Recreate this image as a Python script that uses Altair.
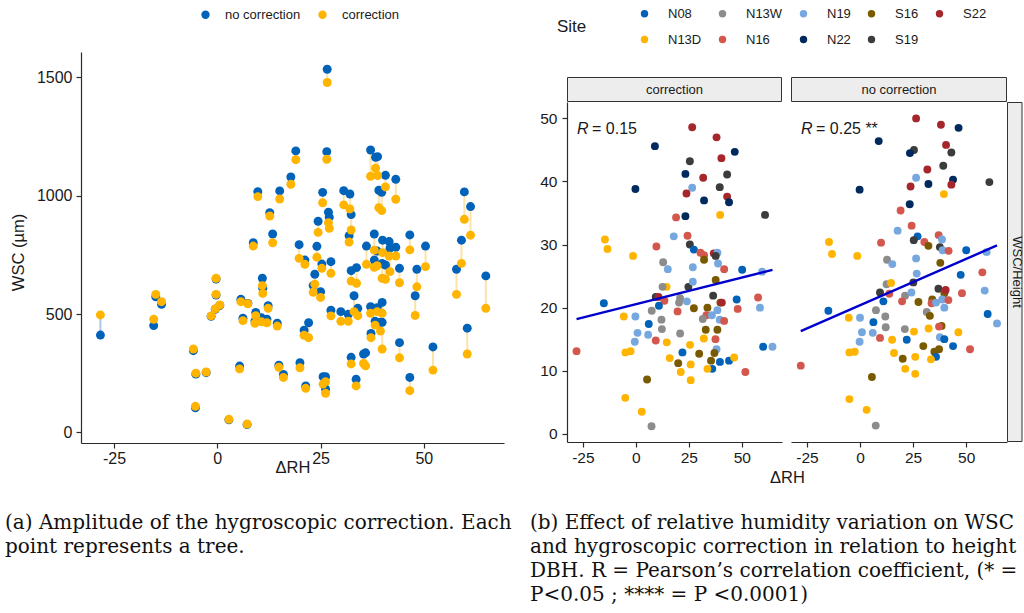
import altair as alt
import pandas as pd

SANS = "Liberation Sans"
SERIF = "DejaVu Serif"
INK = "#1a1a1a"
LINE = "#2b2b2b"

# ---------------- panel (a): one tree per index ----------------
drh_a = [-28.3, -15.4, -14.9, -13.5, -5.8, -5.2, -2.7, -5.3, 2.8, 7.2,
         -1.5, -0.3, -0.3, -0.5, 0.6, 5.7, 7.4, 6.2, 5.4, 8.7,
         9.8, 15.1, 12.7, 13.4, 10.9, 11.0, 9.3, 10.7, 12.0, 9.1,
         12.3, 14.5, 14.9, 16.0, 26.6, 19.0, 26.5, 37.1, 38.3, 38.8,
         40.7, 43.2, 17.8, 25.5, 30.6, 32.1, 39.1, 39.8, 26.9, 27.1,
         32.4, 24.4, 31.9, 59.8, 61.3, 19.8, 24.1, 38.0, 40.0, 41.6,
         43.2, 46.6, 50.4, 59.1, 57.9, 65.0, 36.1, 21.2, 25.3, 27.5,
         23.6, 23.2, 25.0, 32.4, 33.7, 38.0, 38.7, 39.9, 40.7, 41.8,
         44.1, 48.3, 33.1, 47.9, 27.5, 29.9, 31.7, 34.0, 37.1, 38.7,
         39.9, 38.2, 39.5, 39.9, 37.2, 44.1, 52.2, 60.5, 22.1, 21.0,
         32.4, 35.4, 35.9, 20.0, 25.6, 26.2, 26.2, 21.4, 33.6, 46.6]
wsc_no_correction = [411, 451, 573, 541, 345, 246, 252, 104, 53, 33,
                     490, 648, 580, 520, 536, 562, 545, 482, 280, 801,
                     1017, 1020, 928, 838, 651, 609, 507, 484, 478, 470,
                     535, 461, 284, 245, 1534, 1189, 1186, 1193, 1162, 1165,
                     1086, 1069, 1079, 1014, 1021, 1007, 1023, 1014, 930, 909,
                     920, 892, 831, 1016, 954, 793, 786, 838, 812, 806,
                     782, 834, 787, 812, 689, 661, 787, 728, 711, 721,
                     668, 620, 594, 683, 696, 728, 766, 714, 707, 778,
                     693, 689, 577, 577, 516, 510, 499, 524, 531, 527,
                     549, 470, 465, 465, 418, 379, 361, 440, 463, 432,
                     317, 331, 336, 294, 235, 235, 183, 196, 224, 232]
wsc_correction = [496, 478, 583, 552, 352, 250, 255, 110, 55, 35,
                  492, 651, 583, 522, 538, 552, 543, 472, 268, 787,
                  996, 986, 914, 801, 620, 587, 493, 467, 463, 461,
                  524, 449, 275, 232, 1478, 1152, 1154, 1082, 1116, 1085,
                  1037, 985, 1048, 970, 961, 944, 949, 937, 886, 862,
                  855, 845, 804, 900, 833, 735, 740, 770, 759, 745,
                  745, 771, 700, 714, 583, 524, 710, 710, 693, 672,
                  626, 592, 570, 639, 630, 697, 704, 651, 647, 679,
                  632, 615, 510, 494, 492, 469, 469, 493, 503, 510,
                  503, 453, 428, 352, 400, 315, 263, 331, 400, 410,
                  289, 291, 281, 273, 204, 214, 165, 186, 196, 176]

# ---------------- panel (b): "correction" facet ----------------
corr_drh = [26.6, 38.1, 40.4, 9.0, 46.7, 25.5, 23.4, 31.8,
            43.1, -0.2, 26.6, 39.6, 23.9, 32.2, 43.1, 44.0,
            23.4, 19.0, 39.8, 61.0, -14.6, -13.4, -1.3, 9.7,
            17.9, 24.4, 25.5, 27.4, 12.9, 15.1, 26.9, 30.5,
            32.2, 32.2, 36.8, 38.5, 38.8, 41.7, 37.7, 50.2,
            59.6, 37.7, 14.5, 12.6, 24.8, 26.9, 9.4, 10.7,
            13.5, 10.9, 20.9, 20.4, 24.1, 36.5, 39.9, 40.6,
            47.6, 48.1, 57.7, 58.6, 33.8, 27.4, 33.3, 35.9,
            38.5, 39.6, 41.7, 31.6, 19.7, 7.5, -5.7, -0.2,
            -15.1, 12.1, 6.1, 12.3, 0.8, 5.8, -0.5, 9.4,
            14.6, 20.9, 33.0, 32.1, 37.6, 38.5, 25.6, 22.0,
            38.1, 60.1, 64.5, -28.0, -4.9, -2.5, 16.0, 29.9,
            37.1, 35.5, 39.7, 44.0, 46.4, 36.1, 33.8, 20.0,
            25.9, 21.2, 51.7, 25.9, 5.3, -5.0, 2.8, 7.4]
corr_wsc_h = [48.6, 47.0, 43.7, 45.6, 44.7, 43.2, 41.2, 40.6,
              41.1, 38.8, 39.0, 39.1, 38.1, 37.0, 37.6, 36.7,
              34.5, 34.3, 34.7, 34.7, 30.8, 29.3, 28.2, 29.7,
              31.3, 31.4, 30.0, 29.2, 27.2, 26.1, 26.4, 28.7,
              28.3, 27.6, 28.6, 28.7, 27.0, 26.1, 28.2, 26.0,
              25.7, 24.4, 23.3, 23.3, 23.3, 24.1, 21.7, 21.7,
              21.1, 20.3, 21.5, 20.8, 21.0, 21.9, 20.8, 20.8,
              21.3, 19.8, 21.6, 20.0, 20.0, 19.9, 18.8, 18.8,
              19.6, 18.1, 17.9, 18.2, 19.4, 19.5, 18.6, 18.6,
              20.7, 18.1, 17.4, 16.6, 16.0, 15.7, 14.6, 14.8,
              14.5, 15.9, 16.5, 15.1, 15.0, 16.5, 14.1, 12.9,
              13.4, 13.8, 13.8, 13.1, 12.9, 13.1, 12.0, 12.7,
              12.8, 11.6, 11.4, 11.6, 12.1, 10.3, 10.3, 11.2,
              11.0, 9.8, 9.8, 8.5, 8.6, 5.7, 3.5, 1.2]
corr_site = ["S22", "S22", "S22", "N22", "N22", "S19", "N22", "S22",
             "S19", "N22", "N19", "S19", "S22", "N22", "S22", "N22",
             "N22", "N16", "N13D", "S19", "N13D", "N13D", "N13D", "N16",
             "N19", "N16", "S19", "N08", "N13W", "N19", "N19", "N16",
             "N16", "S16", "S22", "N19", "N19", "N16", "S19", "N08",
             "N19", "S16", "N13D", "N13W", "S19", "N19", "S19", "S22",
             "N16", "N08", "N13W", "N13W", "N19", "S19", "S16", "S22",
             "N08", "N16", "N16", "N19", "S16", "S16", "N16", "N19",
             "N19", "N19", "N16", "N13W", "N16", "N13W", "N13D", "N19",
             "N08", "N13W", "N08", "N13W", "N19", "N19", "N19", "N16",
             "N13D", "N13W", "S16", "N13D", "N16", "S16", "N13D", "N08",
             "N19", "N08", "N19", "N16", "N13D", "N13D", "N13D", "S16",
             "S16", "S16", "N08", "N08", "N13D", "N08", "N13D", "S16",
             "N13D", "N13D", "N16", "N13D", "S16", "N13D", "N13D", "N13W"]

# ---------------- panel (b): "no correction" facet ----------------
nocorr_drh = [26.4, 38.1, 46.4, 8.8, 40.5, 25.4, 23.5, 43.0,
              39.2, 31.7, 26.4, 32.2, 43.8, 43.0, 60.9, 23.8,
              -0.2, 39.5, 23.4, 19.1, 24.3, 17.7, 27.1, 25.3,
              37.0, 38.6, 30.3, 32.2, 37.6, 38.9, 41.7, 50.0,
              59.6, 9.9, -14.6, -13.2, -1.3, 12.7, 15.2, 26.4,
              37.8, 26.7, 47.4, 57.6, 12.5, 14.6, 25.1, 9.4,
              13.8, 11.0, 21.2, 19.8, 24.2, 36.9, 39.7, 40.3,
              48.0, 58.7, 27.5, 34.0, 33.7, 35.8, 38.7, 41.6,
              39.7, 7.5, 11.9, 31.4, 32.9, -14.9, -5.3, 0.0,
              6.3, 12.1, 21.1, 0.9, 6.0, 25.4, 32.3, 38.4,
              37.2, 46.3, 60.1, 64.5, -0.2, 9.4, 15.1, 22.0,
              37.6, 39.7, 29.8, 43.8, 51.8, -5.0, -2.5, -27.9,
              16.0, 26.0, 20.1, 35.0, 37.2, 35.8, 33.4, 21.3,
              26.0, 5.6, -5.0, 3.1, 7.4]
nocorr_wsc_h = [50.0, 49.0, 48.5, 46.4, 45.8, 45.0, 44.5, 44.6,
                42.5, 41.9, 40.6, 39.6, 40.3, 39.5, 39.9, 39.2,
                38.7, 38.0, 36.4, 35.4, 33.0, 32.2, 31.3, 30.7,
                31.5, 30.8, 30.4, 29.8, 29.6, 29.1, 29.0, 29.1,
                28.8, 30.3, 30.4, 28.5, 28.2, 27.6, 26.9, 27.8,
                27.1, 25.4, 25.2, 25.6, 23.7, 23.9, 24.0, 22.4,
                22.2, 21.0, 21.9, 21.0, 22.4, 23.0, 22.3, 22.8,
                22.3, 22.7, 20.9, 21.3, 20.7, 20.8, 21.3, 21.2,
                20.0, 19.6, 18.6, 19.3, 18.7, 19.5, 18.4, 18.4,
                17.7, 16.9, 16.6, 16.1, 16.0, 16.2, 16.7, 17.1,
                17.0, 16.1, 19.0, 17.5, 14.6, 15.2, 14.9, 14.9,
                15.3, 15.0, 13.9, 13.9, 13.4, 12.9, 13.0, 10.8,
                12.8, 12.2, 11.9, 13.0, 13.4, 12.2, 11.8, 10.3,
                9.5, 9.0, 5.5, 3.8, 1.3]
nocorr_site = ["S22", "S22", "N22", "N22", "S22", "S19", "N22", "S19",
               "S19", "S22", "N19", "N22", "N22", "S22", "S19", "S22",
               "N22", "N13D", "N22", "N16", "N16", "N19", "N08", "S19",
               "N16", "N19", "N16", "S16", "S19", "N19", "N16", "N08",
               "N19", "N16", "N13D", "N13D", "N13D", "N13W", "N19", "N19",
               "S16", "N19", "N08", "N16", "N13W", "N13D", "S19", "S19",
               "N16", "N08", "N13W", "N16", "N19", "S19", "S16", "S22",
               "N16", "N19", "S16", "S16", "N16", "N19", "N19", "N16",
               "N19", "N13W", "N13W", "N13W", "S16", "N08", "N13D", "N19",
               "N08", "N13W", "N13W", "N19", "N19", "N13D", "N13D", "S16",
               "N16", "N13D", "N08", "N19", "N19", "N16", "N13D", "N08",
               "N19", "N08", "S16", "N08", "N16", "N13D", "N13D", "N16",
               "N13D", "N13D", "S16", "S16", "S16", "N08", "N13D", "N13D",
               "N13D", "S16", "N13D", "N13D", "N13W"]

series_names = ["no correction", "correction"]
series_colors = ["#0062B8", "#FFB400"]
# legend is filled row by row with 5 columns -> this order gives ggplot's column layout
site_names = ["N08", "N13W", "N19", "S16", "S22", "N13D", "N16", "N22", "S19"]
site_colors = ["#0062B8", "#8C8C8C", "#77A7DF", "#7A5A00", "#A5262B",
               "#FFB400", "#D4574D", "#002A5E", "#3C3C3C"]
facet_labels = ["correction", "no correction"]
r_values = ["= 0.15", "= 0.25 **"]
row_strip = ["WSC/Height"]
tick_a_x = [-25, 0, 25, 50]
tick_a_y = [0, 500, 1000, 1500]
tick_b_y = [0, 10, 20, 30, 40, 50]
caption_a = ["(a) Amplitude of the hygroscopic correction. Each",
             "point represents a tree."]
caption_b = ["(b) Effect of relative humidity variation on WSC",
             "and hygroscopic correction in relation to height and",
             "DBH. R = Pearson\u2019s correlation coefficient, (* =",
             "P<0.05 ; **** = P <0.0001)"]

MINUS = "replace(datum.label, '\u2212', '-')"

# ---------------- panel (a) ----------------
n_a = len(drh_a)
seg_df = pd.DataFrame({"dRH": drh_a, "nc": wsc_no_correction, "c": wsc_correction})
pts_df = pd.DataFrame({
    "dRH": drh_a + drh_a,
    "WSC": wsc_no_correction + wsc_correction,
    "Series": [series_names[0]] * n_a + [series_names[1]] * n_a,
})

xa_scale = alt.Scale(domain=[-33, 69.4], range=[0, 423], nice=False, zero=False)
ya_scale = alt.Scale(domain=[-45, 1607], nice=False, zero=False)
xa_axis = alt.Axis(values=tick_a_x, title="\u0394RH", titleX=211.5, titleY=24,
                   titleAlign="center", titleBaseline="middle", labelPadding=2,
                   labelExpr=MINUS)
ya_axis = alt.Axis(values=tick_a_y, format="d", title="WSC (\u00b5m)", titleX=-63,
                   titleY=200, titleBaseline="middle", labelPadding=4)

seg = alt.Chart(seg_df).mark_rule(strokeWidth=2).encode(
    x=alt.X("dRH:Q", scale=xa_scale, axis=xa_axis),
    y=alt.Y("nc:Q", scale=ya_scale, axis=ya_axis),
    y2="c:Q",
    color=alt.condition("datum.c > datum.nc", alt.value("#a9c8ea"), alt.value("#fde3a8")),
)
pts_a = alt.Chart(pts_df).mark_circle(size=80, opacity=1).encode(
    x=alt.X("dRH:Q", scale=xa_scale, axis=xa_axis),
    y=alt.Y("WSC:Q", scale=ya_scale, axis=ya_axis),
    color=alt.Color("Series:N", scale=alt.Scale(domain=series_names, range=series_colors),
                    legend=alt.Legend(orient="none", legendX=118, legendY=-44,
                                      direction="horizontal", title=None,
                                      symbolType="circle", symbolSize=70,
                                      symbolStrokeWidth=0, labelFont=SANS,
                                      labelFontSize=13, labelColor=INK,
                                      labelOffset=13, columnPadding=15, padding=0)),
)
cap_a = alt.Chart(pd.DataFrame({"t": ["\n".join(caption_a)]})).mark_text(
    align="left", baseline="alphabetic", font=SERIF, fontSize=20, lineBreak="\n",
    lineHeight=24, color="#111111"
).encode(x=alt.value(-76), y=alt.value(477), text="t:N")
cap_b = alt.Chart(pd.DataFrame({"t": ["\n".join(caption_b)]})).mark_text(
    align="left", baseline="alphabetic", font=SERIF, fontSize=20, lineBreak="\n",
    lineHeight=24, color="#111111", limit=490, ellipsis="\u200b"
).encode(x=alt.value(449), y=alt.value(477), text="t:N")

panel_a = alt.layer(seg, pts_a, cap_a, cap_b).properties(width=477, height=391)

# ---------------- panel (b) ----------------
yb_scale = alt.Scale(domain=[-1.3, 52.6], range=[390, 50], nice=False, zero=False)
site_scale = alt.Scale(domain=site_names, range=site_colors)
site_legend = alt.Legend(orient="none", legendX=-10, legendY=-45, direction="horizontal",
                         columns=5, title="Site", titleOrient="left", titleFont=SANS,
                         titleFontSize=17, titleFontWeight="normal", titleColor=INK,
                         titleAnchor="middle", titleBaseline="middle", titlePadding=51,
                         symbolType="circle", symbolSize=55, symbolStrokeWidth=0,
                         labelFont=SANS, labelFontSize=13, labelColor=INK, labelOffset=17,
                         columnPadding=14, rowPadding=12, padding=0)


def facet_panel(drh, wsc_h, site, label, r_text, width, xdom_hi, first):
    df = pd.DataFrame({"dRH": drh, "WSC_H": wsc_h, "Site": site})
    xs = alt.Scale(domain=[-32.5, xdom_hi], range=[0, width], nice=False, zero=False)
    if first:
        xax = alt.Axis(values=tick_a_x, title="\u0394RH", titleX=220, titleY=35,
                       titleAlign="center", titleBaseline="middle", labelPadding=3,
                       labelFontSize=15.5, labelExpr=MINUS)
        yax = alt.Axis(values=tick_b_y, title=None, labelPadding=5, labelFontSize=15.5)
        leg = site_legend
    else:
        xax = alt.Axis(values=tick_a_x, title=None, labelPadding=3, labelFontSize=15.5,
                       labelExpr=MINUS)
        yax = None
        leg = None
    x = alt.X("dRH:Q", scale=xs, axis=xax)
    y = alt.Y("WSC_H:Q", scale=yb_scale, axis=yax)
    strip_df = pd.DataFrame({"label": [label]})
    strip = alt.Chart(strip_df).mark_rect(fill="#EDEDED", stroke="#333333", strokeWidth=1).encode(
        x=alt.value(0.5), x2=alt.value(width - 0.5), y=alt.value(25.5), y2=alt.value(49.5))
    strip_txt = alt.Chart(strip_df).mark_text(font=SANS, fontSize=13, color=INK).encode(
        x=alt.value(width / 2), y=alt.value(37.5), text="label:N")
    pts = alt.Chart(df).mark_circle(size=62, opacity=1).encode(
        x=x, y=y, color=alt.Color("Site:N", scale=site_scale, legend=leg))
    reg = alt.Chart(df).transform_regression("dRH", "WSC_H").mark_line(
        color="#0000CD", strokeWidth=2.4).encode(x=x, y=y)
    r_df = pd.DataFrame({"R": ["R"], "v": [r_text]})
    r_it = alt.Chart(r_df).mark_text(font=SANS, fontSize=16, fontStyle="italic", align="left",
                                     baseline="middle", color=INK).encode(
        x=alt.value(10), y=alt.value(77), text="R:N")
    r_val = alt.Chart(r_df).mark_text(font=SANS, fontSize=16, align="left", baseline="middle",
                                      color=INK, dx=15).encode(
        x=alt.value(10), y=alt.value(77), text="v:N")
    layers = [strip, strip_txt, pts, reg, r_it, r_val]
    if not first:
        row_df = pd.DataFrame({"label": row_strip})
        row_rect = alt.Chart(row_df).mark_rect(fill="#EDEDED", stroke="#333333", strokeWidth=1).encode(
            x=alt.value(width + 0.5), x2=alt.value(width + 15), y=alt.value(50.5), y2=alt.value(389.5))
        row_txt = alt.Chart(row_df).mark_text(font=SANS, fontSize=13, color=INK, angle=90,
                                              baseline="middle").encode(
            x=alt.value(width + 9.5), y=alt.value(220), text="label:N")
        layers += [row_rect, row_txt]
    return alt.layer(*layers).properties(width=width, height=390)


panel_b1 = facet_panel(corr_drh, corr_wsc_h, corr_site, facet_labels[0], r_values[0], 215, 69.0, True)
panel_b2 = facet_panel(nocorr_drh, nocorr_wsc_h, nocorr_site, facet_labels[1], r_values[1], 216, 69.2, False)

chart = alt.hconcat(panel_a, panel_b1, panel_b2, spacing=9, bounds="flush").resolve_scale(
    x="independent", y="independent", color="independent"
).resolve_legend(color="independent").properties(
    padding={"left": 5, "top": 7, "right": 0, "bottom": 6}, background="white"
).configure_view(stroke=None).configure_axis(
    grid=False, domainColor=LINE, domainWidth=1.2, tickColor=LINE, tickWidth=1.2, tickSize=5,
    labelFont=SANS, labelFontSize=16, labelColor=INK, titleFont=SANS, titleFontSize=16.5,
    titleFontWeight="normal", titleColor=INK
)

chart.save("out.html", embed_options={"renderer": "svg", "actions": False})
